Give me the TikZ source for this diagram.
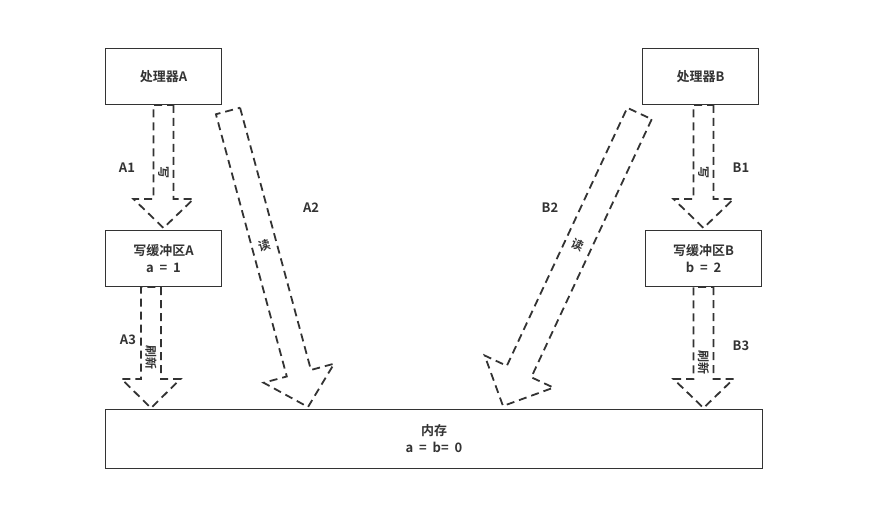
\documentclass[tikz,border=0pt]{standalone}
\usepackage{fontspec}
\setmainfont{Noto Sans CJK SC}[BoldFont={Noto Sans CJK SC Bold}]
\usetikzlibrary{calc}
\definecolor{darkgrey}{RGB}{51, 51, 51}
\newcommand{\gap}{\hspace{0.45em}}
\tikzset{
  unit/.style     = {shape=rectangle, draw=darkgrey, line width=1.8pt,
                     minimum width=116pt, minimum height=56pt, align=center,
                     text=darkgrey, font=\fontsize{13}{17}\selectfont\bfseries},
  flow/.style     = {draw=darkgrey, line width=1.8pt, dash pattern=on 8pt off 5pt},
  tag/.style      = {text=darkgrey, font=\fontsize{13}{15}\selectfont\bfseries},
  flowtext/.style = {text=darkgrey, inner sep=0pt, font=\fontsize{12}{13}\selectfont\bfseries},
}
% block arrow: tail, tip, shaft half width, head half width, head length
\newcommand{\blockarrow}[5]{%
  \coordinate (hb) at ($(#2)!#5!(#1)$);
  \draw[flow] ($(#1)!#3!90:(#2)$) -- ($(hb)!#3!90:(#2)$) -- ($(hb)!#4!90:(#2)$)
    -- (#2) -- ($(hb)!#4!-90:(#2)$) -- ($(hb)!#3!-90:(#2)$)
    -- ($(#1)!#3!-90:(#2)$) -- cycle;
}

\begin{document}
\begin{tikzpicture}[x=1pt, y=-1pt]
  \useasboundingbox (0,0) rectangle (884,532);

  % processors, buffers, memory
  \node [unit] (procA) at (163.5,76.5)  {处理器A};
  \node [unit] (procB) at (700.5,76.5)  {处理器B};
  \node [unit] (bufA)  at (163.5,258.5) {写缓冲区A\\a\gap=\gap1};
  \node [unit] (bufB)  at (703.5,258.5) {写缓冲区B\\b\gap=\gap2};
  \node [unit, minimum width=657pt, minimum height=59pt] (mem) at (434,439)
        {内存\\a\gap=\gap b=\gap0};

  % arrow ends
  \coordinate (a1s) at (163.5,105);
  \coordinate (a1e) at (163.5,228);
  \coordinate (a3s) at (151,287);
  \coordinate (a3e) at (151,408);
  \coordinate (b1s) at (703.5,105);
  \coordinate (b1e) at (703.5,228);
  \coordinate (b3s) at (703.5,287);
  \coordinate (b3e) at (703.5,408);
  \coordinate (a2s) at (228,111);
  \coordinate (a2e) at (308,407);
  \coordinate (b2s) at (639.5,113.5);
  \coordinate (b2e) at (503,406);

  \blockarrow{a1s}{a1e}{10pt}{30pt}{29pt}
  \blockarrow{a3s}{a3e}{10pt}{29.5pt}{29pt}
  \blockarrow{b1s}{b1e}{10pt}{30pt}{29pt}
  \blockarrow{b3s}{b3e}{10pt}{30pt}{29pt}
  \blockarrow{a2s}{a2e}{12.5pt}{36.5pt}{35pt}
  \blockarrow{b2s}{b2e}{13.5pt}{38pt}{38pt}

  % texts on the arrows
  \node [flowtext, rotate=-90] (wA) at ($(a1s)!0.545!(a1e)$) {写};
  \node [flowtext, rotate=-90] (wB) at ($(b1s)!0.545!(b1e)$) {写};
  \node [flowtext, rotate=-90] (fA) at ($(a3s)!0.58!(a3e)$)  {刷新};
  \node [flowtext, rotate=-90] (fB) at ($(b3s)!0.625!(b3e)$) {刷新};
  \node [flowtext, rotate=15]  (rA) at ($(a2s)!0.453!(a2e)$) {读};
  \node [flowtext, rotate=-25] (rB) at ($(b2s)!0.45!(b2e)$)  {读};

  % step names
  \node [tag] (tA1) at (127,168) {A1};
  \node [tag] (tA2) at (311,208) {A2};
  \node [tag] (tA3) at (128,340) {A3};
  \node [tag] (tB1) at (741,168) {B1};
  \node [tag] (tB2) at (550,208) {B2};
  \node [tag] (tB3) at (741,346) {B3};
\end{tikzpicture}
\end{document}
